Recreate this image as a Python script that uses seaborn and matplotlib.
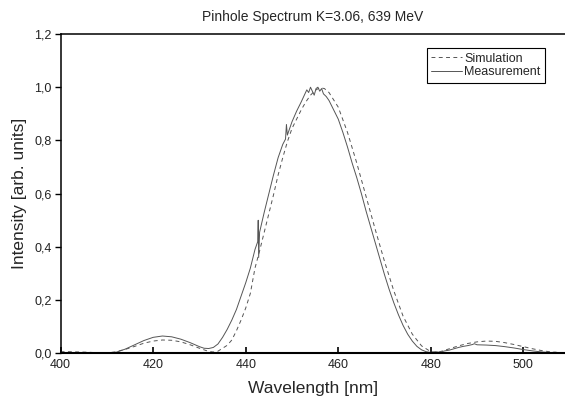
import numpy as np
import pandas as pd
import matplotlib
matplotlib.use("Agg")
import matplotlib.pyplot as plt
import seaborn as sns
from matplotlib.ticker import FuncFormatter, FixedLocator

# ---- data ----
sim_wl = [400, 402, 404, 406, 408, 410, 412, 414, 416, 418, 420, 422, 424, 426, 428, 430,
          432, 433, 434, 436, 437, 438, 439, 440, 441, 442, 443, 444, 445, 446, 447, 448,
          449, 450, 451, 452, 453, 454, 455, 456, 457, 458, 460, 462, 464, 466, 468, 470,
          472, 474, 476, 478, 480, 481, 482, 484, 486, 488, 490, 492, 494, 496, 498, 500,
          502, 504, 506, 508]
sim_int = [0.006, 0.006, 0.005, 0.004, 0.002, 0.001, 0.006, 0.015, 0.026, 0.038, 0.046, 0.050,
           0.049, 0.043, 0.032, 0.019, 0.007, 0.005, 0.008, 0.030, 0.050, 0.085, 0.125, 0.170,
           0.225, 0.320, 0.385, 0.455, 0.525, 0.595, 0.670, 0.735, 0.795, 0.845, 0.880, 0.915,
           0.945, 0.970, 0.988, 0.998, 0.995, 0.980, 0.925, 0.830, 0.715, 0.590, 0.465, 0.345,
           0.235, 0.140, 0.072, 0.028, 0.006, 0.003, 0.006, 0.017, 0.028, 0.037, 0.043, 0.046,
           0.045, 0.040, 0.033, 0.025, 0.017, 0.010, 0.005, 0.002]

meas_wl = [411, 412, 414, 416, 418, 420, 422, 424, 426, 428, 430, 431, 432, 433, 434, 435,
           436, 437, 438, 439, 440, 441, 442, 442.6, 442.7, 442.8, 443, 444, 445, 446, 447,
           448, 448.6, 448.8, 449, 450, 451, 452, 452.8, 453.2, 453.6, 454, 454.4, 454.8,
           455.2, 455.6, 456, 456.4, 456.8, 457.4, 458, 459, 460, 461, 462, 463, 464, 465,
           466, 467, 468, 469, 470, 471, 472, 473, 474, 475, 476, 477, 478, 479, 480, 481,
           482, 483, 484, 485, 486, 487, 488, 489, 489.4, 490, 492, 494, 496, 498, 500, 502,
           504, 506, 507, 508]
meas_int = [0.000, 0.004, 0.016, 0.032, 0.048, 0.060, 0.065, 0.062, 0.053, 0.040, 0.025, 0.019,
            0.018, 0.022, 0.035, 0.060, 0.090, 0.125, 0.165, 0.215, 0.265, 0.320, 0.390, 0.420,
            0.500, 0.360, 0.455, 0.530, 0.600, 0.670, 0.735, 0.785, 0.805, 0.860, 0.820, 0.870,
            0.910, 0.945, 0.975, 0.990, 0.980, 1.000, 0.985, 0.970, 0.995, 1.000, 0.985, 0.995,
            0.975, 0.965, 0.950, 0.915, 0.880, 0.830, 0.775, 0.715, 0.660, 0.600, 0.535, 0.475,
            0.415, 0.355, 0.295, 0.240, 0.190, 0.145, 0.105, 0.072, 0.046, 0.026, 0.013, 0.006,
            0.003, 0.006, 0.004, 0.009, 0.012, 0.017, 0.022, 0.026, 0.029, 0.033, 0.036, 0.032,
            0.031, 0.029, 0.025, 0.020, 0.014, 0.009, 0.005, 0.003, 0.004, 0.001]

x_ticks = [400, 420, 440, 460, 480, 500]
y_ticks = [0.0, 0.2, 0.4, 0.6, 0.8, 1.0, 1.2]

title = "Pinhole Spectrum K=3.06, 639 MeV"
xlabel = "Wavelength [nm]"
ylabel = "Intensity [arb. units]"

# ---- style ----
sns.set_style("ticks")
plt.rcParams["font.family"] = ["Liberation Sans", "DejaVu Sans"]

fig = plt.figure(figsize=(5.65, 3.98), dpi=100)
ax = fig.add_axes([0.1073, 0.1123, 0.8927, 0.8023])

sim_df = pd.DataFrame({"wl": sim_wl, "I": sim_int})
meas_df = pd.DataFrame({"wl": meas_wl, "I": meas_int})

line_col = "#555555"
sns.lineplot(data=sim_df, x="wl", y="I", ax=ax, sort=False, color=line_col,
             linewidth=0.7, label="Simulation")
ax.lines[-1].set_dashes([4.0, 3.5])
sns.lineplot(data=meas_df, x="wl", y="I", ax=ax, sort=False, color=line_col,
             linewidth=0.7, label="Measurement")

ax.set_xlim(400, 509)
ax.set_ylim(0, 1.2)
ax.xaxis.set_major_locator(FixedLocator(x_ticks))
ax.yaxis.set_major_locator(FixedLocator(y_ticks))
ax.yaxis.set_major_formatter(FuncFormatter(lambda v, p: f"{v:.1f}".replace(".", ",")))
ax.xaxis.set_major_formatter(FuncFormatter(lambda v, p: f"{v:.0f}"))

ax.tick_params(axis="x", direction="in", length=4, width=1.2, labelsize=9, pad=4, colors="black")
ax.tick_params(axis="y", direction="out", length=4.5, width=1.0, labelsize=9, pad=2, colors="black")
for lab in ax.get_xticklabels() + ax.get_yticklabels():
    lab.set_color("#222222")

ax.spines["right"].set_visible(False)
ax.spines["left"].set_linewidth(1.1)
ax.spines["top"].set_linewidth(1.1)
ax.spines["bottom"].set_linewidth(1.5)
for s in ["left", "top", "bottom"]:
    ax.spines[s].set_color("black")

ax.set_title(title, fontsize=10, pad=9)
ax.set_xlabel(xlabel, fontsize=12.5, labelpad=7)
ax.set_ylabel(ylabel, fontsize=12.5, labelpad=5)

leg = ax.legend(loc="upper right", bbox_to_anchor=(0.96, 0.955), fontsize=9,
                frameon=True, fancybox=False, framealpha=1, edgecolor="black",
                handlelength=2.5, handletextpad=0.15, borderpad=0.35,
                labelspacing=0.12, borderaxespad=0)
leg.get_frame().set_linewidth(0.8)

fig.savefig("out.png", dpi=100)
